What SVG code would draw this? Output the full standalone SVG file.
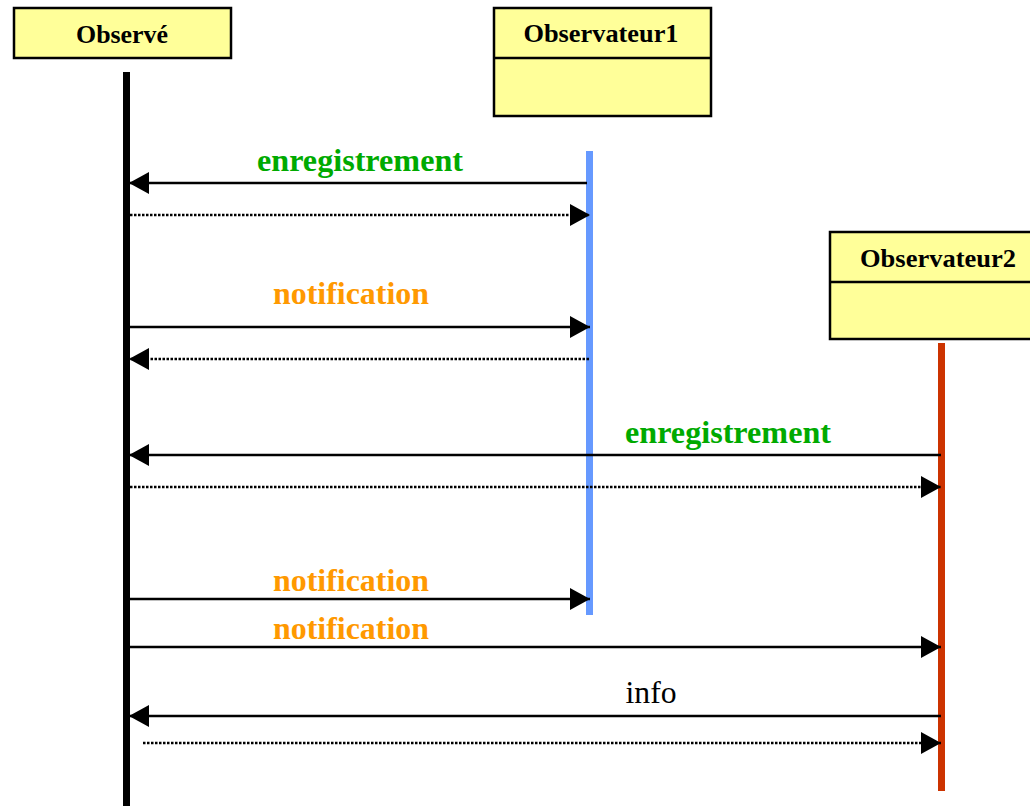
<svg xmlns="http://www.w3.org/2000/svg" width="1030" height="806" viewBox="0 0 1030 806">
<style>
.box{fill:#ffff99;stroke:#000;stroke-width:2.5}
.title{font-family:"Liberation Serif","Times New Roman",serif;font-weight:bold;font-size:26px;fill:#000;text-anchor:middle}
.lbl{font-family:"Liberation Serif","Times New Roman",serif;font-weight:bold;font-size:32px;text-anchor:middle}
.green{fill:#00aa00}
.orange{fill:#ff9900}
.info{font-family:"Liberation Serif","Times New Roman",serif;font-size:31px;fill:#000;text-anchor:middle}
.msg{stroke:#000;stroke-width:2.5;fill:none;marker-end:url(#ah)}
.ret{stroke:#000;stroke-width:2.5;fill:none;stroke-dasharray:2.5 1.5;marker-end:url(#ah)}
</style>
<defs>
<marker id="ah" markerUnits="userSpaceOnUse" viewBox="0 0 20 22" refX="20" refY="11" markerWidth="20" markerHeight="22" orient="auto">
<path d="M0,0 L20,11 L0,22 z" fill="#000"/>
</marker>
</defs>
<rect width="1030" height="806" fill="#fff"/>
<g id="observe">
<rect class="box" x="14" y="8" width="217" height="50"/>
<text class="title" x="122" y="43" textLength="92" lengthAdjust="spacingAndGlyphs">Observé</text>
<rect x="123" y="72" width="7" height="734" fill="#000"/>
</g>
<g id="observateur1">
<rect class="box" x="494" y="8" width="217" height="108"/>
<line x1="494" y1="58" x2="711" y2="58" stroke="#000" stroke-width="2.5"/>
<text class="title" x="601" y="42" textLength="155" lengthAdjust="spacingAndGlyphs">Observateur1</text>
<rect x="586" y="151" width="7" height="464" fill="#6699ff"/>
</g>
<g id="observateur2">
<rect class="box" x="830" y="232" width="220" height="107"/>
<line x1="830" y1="282" x2="1030" y2="282" stroke="#000" stroke-width="2.5"/>
<text class="title" x="938" y="267" textLength="156" lengthAdjust="spacingAndGlyphs">Observateur2</text>
<rect x="938" y="343" width="7" height="448" fill="#cc3300"/>
</g>
<g id="connectors">
<line class="msg" x1="587" y1="183" x2="129" y2="183"/>
<text class="lbl green" x="360" y="171" textLength="206" lengthAdjust="spacingAndGlyphs">enregistrement</text>
<line class="ret" x1="130" y1="215" x2="590" y2="215"/>
<text class="lbl orange" x="351" y="304" textLength="156" lengthAdjust="spacingAndGlyphs">notification</text>
<line class="msg" x1="130" y1="327" x2="590" y2="327"/>
<line class="ret" x1="589" y1="359" x2="129" y2="359"/>
<text class="lbl green" x="728" y="443" textLength="206" lengthAdjust="spacingAndGlyphs">enregistrement</text>
<line class="msg" x1="941" y1="455" x2="129" y2="455"/>
<line class="ret" x1="130" y1="487" x2="941" y2="487"/>
<text class="lbl orange" x="351" y="591" textLength="156" lengthAdjust="spacingAndGlyphs">notification</text>
<line class="msg" x1="130" y1="599" x2="590" y2="599"/>
<text class="lbl orange" x="351" y="639" textLength="156" lengthAdjust="spacingAndGlyphs">notification</text>
<line class="msg" x1="130" y1="647" x2="941" y2="647"/>
<text class="info" x="651" y="703" textLength="51" lengthAdjust="spacingAndGlyphs">info</text>
<line class="msg" x1="941" y1="716" x2="129" y2="716"/>
<line class="ret" x1="143" y1="743" x2="941" y2="743"/>
</g>
</svg>
